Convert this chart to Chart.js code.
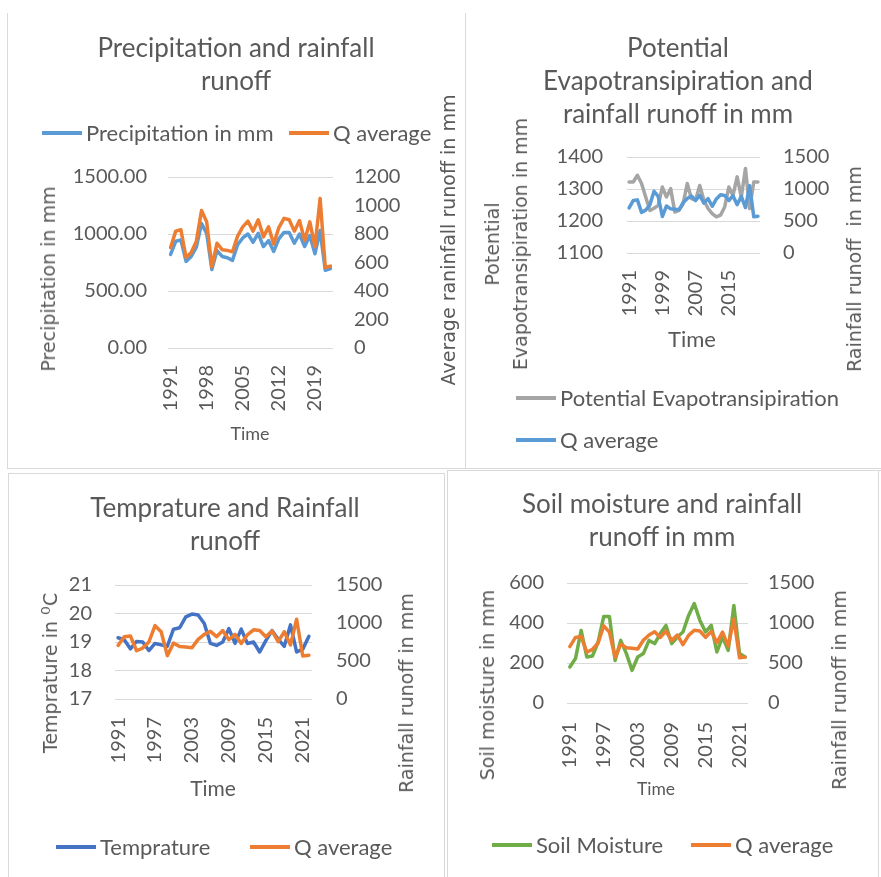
<!DOCTYPE html>
<html>
<head>
<meta charset="utf-8">
<script src="https://cdn.jsdelivr.net/npm/chart.js@4.4.1/dist/chart.umd.min.js"></script>
<style>
  html, body { margin: 0; padding: 0; background: #ffffff; }
  body { width: 881px; height: 877px; position: relative; overflow: hidden;
         font-family: Lato, 'Open Sans', sans-serif; color: #595959; }
  .panel { position: absolute; }
  .panel canvas { position: absolute; left: 0; top: 0; }
  .ttl { position: absolute; transform: translateX(-50%); text-align: center;
         white-space: nowrap; font-size: 26px; line-height: 33px; }
  .cap { position: absolute; transform: translate(-50%, -50%) rotate(-90deg);
         white-space: pre; text-align: center; font-family: 'DejaVu Sans', sans-serif;
         font-size: 19px; line-height: 28px; }
  .cap .deg { font-size: 22px; }
  .xcap { position: absolute; transform: translate(-50%, -50%); white-space: nowrap; }
  .lg { position: absolute; display: flex; align-items: center; white-space: nowrap;
        font-size: 22px; line-height: 26px; transform: translateY(-50%); }
  .lg i { display: inline-block; width: 40px; height: 4px; margin-right: 4px; }
  .rule { position: absolute; background: #D9D9D9; }
</style>
</head>
<body>
<div class="rule" style="left:7px;top:13px;width:1px;height:455px"></div>
<div class="rule" style="left:465px;top:13px;width:1px;height:455px"></div>
<div class="rule" style="left:7px;top:468px;width:874px;height:1px"></div>
<div class="rule" style="left:8px;top:473px;width:437px;height:1px"></div>
<div class="rule" style="left:8px;top:473px;width:1px;height:404px"></div>
<div class="rule" style="left:444px;top:473px;width:1px;height:404px"></div>
<div class="rule" style="left:447px;top:470px;width:434px;height:1px"></div>
<div class="rule" style="left:447px;top:470px;width:1px;height:407px"></div>
<div class="rule" style="left:878px;top:470px;width:1px;height:407px"></div>

<script>
// Annual series, 1991-2022
const years = ['1991','1992','1993','1994','1995','1996','1997','1998','1999','2000',
               '2001','2002','2003','2004','2005','2006','2007','2008','2009','2010',
               '2011','2012','2013','2014','2015','2016','2017','2018','2019','2020',
               '2021','2022'];

const precipitation = [821, 936, 948, 760, 803, 884, 1092, 1006, 688, 855,
                       803, 792, 769, 907, 965, 1000, 928, 1006, 890, 942,
                       847, 957, 1014, 1014, 919, 1000, 890, 986, 827, 1030,
                       682, 697];

const qAverage = [705, 820, 830, 635, 670, 750, 965, 885, 570, 735,
                  690, 685, 675, 785, 850, 890, 820, 900, 780, 850,
                  730, 845, 910, 900, 820, 895, 755, 885, 710, 1050,
                  565, 575];

const potentialEvapotranspiration = [1322, 1322, 1343, 1317, 1275, 1233, 1240, 1249, 1306, 1275,
                                     1301, 1228, 1233, 1254, 1317, 1270, 1265, 1311, 1265, 1239,
                                     1223, 1213, 1218, 1244, 1306, 1280, 1338, 1275, 1364, 1239,
                                     1322, 1322];

const temperature = [19.15, 19.08, 18.76, 19.02, 19.0, 18.7, 18.95, 18.9, 18.85, 19.45,
                     19.5, 19.88, 19.98, 19.95, 19.65, 18.95, 18.88, 19.0, 19.47, 18.95,
                     19.45, 18.95, 19.0, 18.65, 19.05, 19.4, 19.1, 18.85, 19.6, 18.65,
                     18.75, 19.2];

const soilMoisture = [180, 222, 363, 230, 235, 305, 433, 433, 213, 313,
                      247, 163, 230, 247, 313, 297, 347, 388, 297, 330,
                      355, 438, 497, 413, 355, 388, 255, 330, 263, 488,
                      247, 230];

// Axis ranges: [min, max, step]
const precipAxis = [0, 1500, 500];
const runoffAxisWide = [0, 1200, 200];
const runoffAxis = [0, 1500, 500];
const petAxis = [1100, 1400, 100];
const tempAxis = [17, 21, 1];
const soilAxis = [0, 600, 200];

const TEXT = '#595959';
const GRID = '#D9D9D9';
const tickFont = { family: 'Lato', size: 20 };

function el(parent, cls, style, html) {
  const d = document.createElement('div');
  d.className = cls;
  Object.assign(d.style, style);
  d.innerHTML = html;
  parent.appendChild(d);
  return d;
}

function buildPanel(p) {
  const box = document.createElement('div');
  box.className = 'panel';
  Object.assign(box.style, { left: p.x + 'px', top: p.y + 'px', width: p.w + 'px', height: p.h + 'px' });
  document.body.appendChild(box);

  const canvas = document.createElement('canvas');
  canvas.width = p.w; canvas.height = p.h;
  box.appendChild(canvas);

  const a = p.area;
  const chart = new Chart(canvas, {
    type: 'line',
    data: {
      labels: years,
      datasets: p.series.map(s => ({
        label: s.label, data: s.data, yAxisID: s.axis,
        borderColor: s.color, backgroundColor: s.color,
        borderWidth: 3.5, pointRadius: 0, pointHoverRadius: 0,
        tension: 0, fill: false, order: s.order,
        borderJoinStyle: 'round', borderCapStyle: 'round'
      }))
    },
    options: {
      responsive: false, animation: false, devicePixelRatio: 1, events: [],
      layout: { padding: { top: a.top, right: 0, bottom: 0, left: 0 } },
      plugins: { legend: { display: false }, title: { display: false }, tooltip: { enabled: false } },
      scales: {
        x: {
          type: 'category', offset: true,
          grid: { display: false, drawTicks: false }, border: { display: false },
          ticks: {
            autoSkip: false, minRotation: 90, maxRotation: 90, padding: p.xPad,
            color: TEXT, font: tickFont,
            callback: (v, i) => (i % p.every === 0 ? years[i] : '')
          },
          afterFit: s => { s.height = p.h - a.bottom; }
        },
        y: {
          position: 'left', min: p.left[0], max: p.left[1],
          ticks: { stepSize: p.left[2], padding: p.leftPad, color: TEXT, font: tickFont,
                   callback: p.leftFmt || (v => String(v)) },
          grid: { color: GRID, lineWidth: 1, drawTicks: false }, border: { display: false },
          afterFit: s => { s.width = a.left; }
        },
        y1: {
          position: 'right', min: p.right[0], max: p.right[1],
          ticks: { stepSize: p.right[2], padding: p.rightPad, color: TEXT, font: tickFont,
                   callback: v => String(v) },
          grid: { display: false, drawTicks: false }, border: { display: false },
          afterFit: s => { s.width = p.w - a.right; }
        }
      }
    }
  });

  // chart title
  el(box, 'ttl', { left: p.title.x + 'px', top: (p.title.y - 16.5) + 'px' }, p.title.lines.join('<br>'));

  // legend entries built from the datasets
  p.legend.forEach((pos, i) => {
    const ds = chart.data.datasets[i];
    el(box, 'lg', { left: pos.x + 'px', top: pos.y + 'px' },
       '<i style="background:' + ds.borderColor + '"></i><span>' + ds.label + '</span>');
  });

  // axis titles
  p.caps.forEach(c => {
    el(box, 'cap', { left: c.x + 'px', top: c.y + 'px' }, [].concat(c.text).join('<br>'));
  });
  el(box, 'xcap', { left: p.time.x + 'px', top: p.time.y + 'px', fontSize: p.time.size + 'px' }, 'Time');
  return chart;
}

buildPanel({
  x: 8, y: 13, w: 457, h: 455,
  area: { left: 160, right: 325, top: 164, bottom: 335 },
  every: 7, xPad: 17,
  left: precipAxis, leftPad: 21, leftFmt: v => v.toFixed(2),
  right: runoffAxisWide, rightPad: 21,
  series: [
    { label: 'Precipitation in mm', data: precipitation, color: '#5B9BD5', axis: 'y', order: 1 },
    { label: 'Q average', data: qAverage, color: '#ED7D31', axis: 'y1', order: 0 }
  ],
  title: { x: 228, y: 34, lines: ['Precipitation and rainfall', 'runoff'] },
  legend: [{ x: 34, y: 120 }, { x: 281, y: 120 }],
  caps: [
    { text: 'Precipitation in mm', x: 40, y: 266 },
    { text: 'Average raninfall runoff in mm', x: 440, y: 227 }
  ],
  time: { x: 242, y: 420, size: 18 }
});

buildPanel({
  x: 465, y: 13, w: 416, h: 455,
  area: { left: 162, right: 295, top: 144, bottom: 240 },
  every: 8, xPad: 17,
  left: petAxis, leftPad: 24,
  right: runoffAxis, rightPad: 23,
  series: [
    { label: 'Potential Evapotransipiration', data: potentialEvapotranspiration, color: '#A5A5A5', axis: 'y', order: 1 },
    { label: 'Q average', data: qAverage, color: '#5B9BD5', axis: 'y1', order: 0 }
  ],
  title: { x: 213, y: 34.5, lines: ['Potential', 'Evapotransipiration and', 'rainfall runoff in mm'] },
  legend: [{ x: 51, y: 385 }, { x: 51, y: 427 }],
  caps: [
    { text: ['Potential', 'Evapotransipiration in mm'], x: 41, y: 231 },
    { text: 'Rainfall runoff  in mm', x: 389, y: 256 }
  ],
  time: { x: 227, y: 325, size: 22 }
});

buildPanel({
  x: 8, y: 473, w: 437, h: 404,
  area: { left: 107, right: 304, top: 112, bottom: 226 },
  every: 6, xPad: 18,
  left: tempAxis, leftPad: 23,
  right: runoffAxis, rightPad: 24,
  series: [
    { label: 'Temprature', data: temperature, color: '#4472C4', axis: 'y', order: 1 },
    { label: 'Q average', data: qAverage, color: '#ED7D31', axis: 'y1', order: 0 }
  ],
  title: { x: 217, y: 34, lines: ['Temprature and Rainfall', 'runoff'] },
  legend: [{ x: 48, y: 374 }, { x: 242, y: 374 }],
  caps: [
    { text: 'Temprature in <span class="deg">\u2070</span>C', x: 42, y: 200 },
    { text: 'Rainfall runoff in mm', x: 398, y: 220 }
  ],
  time: { x: 205, y: 314, size: 21 }
});

buildPanel({
  x: 447, y: 470, w: 434, h: 407,
  area: { left: 120, right: 301, top: 113, bottom: 233 },
  every: 6, xPad: 19,
  left: soilAxis, leftPad: 23,
  right: runoffAxis, rightPad: 20,
  series: [
    { label: 'Soil Moisture', data: soilMoisture, color: '#70AD47', axis: 'y', order: 1 },
    { label: 'Q average', data: qAverage, color: '#ED7D31', axis: 'y1', order: 0 }
  ],
  title: { x: 215, y: 33.5, lines: ['Soil moisture and rainfall', 'runoff in mm'] },
  legend: [{ x: 45, y: 375 }, { x: 244, y: 375 }],
  caps: [
    { text: 'Soil moisture in mm', x: 40, y: 215 },
    { text: 'Rainfall runoff in mm', x: 392, y: 220 }
  ],
  time: { x: 209, y: 318, size: 17.5 }
});
</script>
</body>
</html>
